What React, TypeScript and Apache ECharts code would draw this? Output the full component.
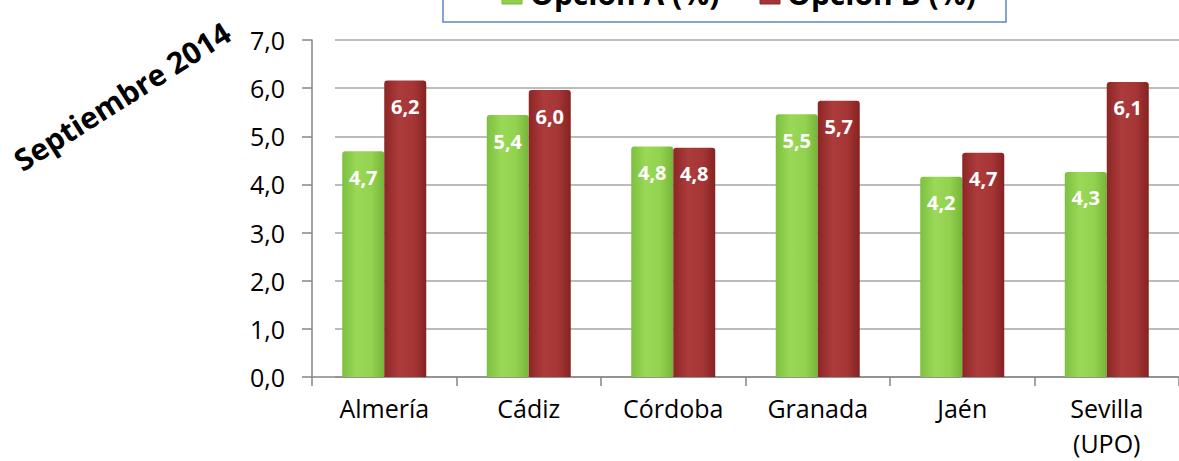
import React, { useEffect, useRef } from "react";
import * as echarts from "echarts";

const categories = ["Almería", "Cádiz", "Córdoba", "Granada", "Jaén", "Sevilla\n(UPO)"];
const seriesNames = ["Opción A (%)", "Opción B (%)"];
const opcionA = [4.69, 5.44, 4.79, 5.46, 4.16, 4.26];
const opcionB = [6.16, 5.96, 4.76, 5.74, 4.66, 6.13];
const yTickLabels = ["0,0", "1,0", "2,0", "3,0", "4,0", "5,0", "6,0", "7,0"];
const title = "Septiembre 2014";

const fmt = (v: number) => v.toFixed(1).replace(".", ",");

const greenGrad = new echarts.graphic.LinearGradient(0, 0, 1, 0, [
  { offset: 0, color: "#7dbf3f" },
  { offset: 0.35, color: "#9ad957" },
  { offset: 0.7, color: "#92d24f" },
  { offset: 1, color: "#76b53a" },
]);
const redGrad = new echarts.graphic.LinearGradient(0, 0, 1, 0, [
  { offset: 0, color: "#8c2626" },
  { offset: 0.35, color: "#ac3b3b" },
  { offset: 0.7, color: "#a63636" },
  { offset: 1, color: "#862222" },
]);

export default function App() {
  const ref = useRef<HTMLDivElement>(null);
  useEffect(() => {
    if (!ref.current) return;
    const chart = echarts.init(ref.current, null, { renderer: "svg" });
    const labelCfg = {
      show: true,
      position: "insideTop",
      distance: 15,
      color: "#ffffff",
      fontFamily: "Open Sans",
      fontWeight: "bold",
      fontSize: 20,
      lineHeight: 22,
      formatter: (p: any) => fmt(p.value),
    };
    chart.setOption({
      animation: false,
      backgroundColor: "#ffffff",
      grid: [
        { left: 312, right: -8, top: 40, bottom: 84 },
        { left: 335, right: -8, top: 40, bottom: 84 },
      ],
      xAxis: [
        {
          type: "category",
          gridIndex: 0,
          data: categories,
          axisLine: { show: true, lineStyle: { color: "#868686", width: 1.5 } },
          axisTick: { show: true, length: 9, lineStyle: { color: "#868686", width: 1.5 } },
          axisLabel: {
            color: "#000",
            fontFamily: "Open Sans",
            fontSize: 25,
            lineHeight: 35,
            margin: 13,
            interval: 0,
          },
        },
        { type: "category", gridIndex: 1, data: categories, show: false },
      ],
      yAxis: [
        {
          type: "value",
          gridIndex: 0,
          min: 0,
          max: 7,
          interval: 1,
          axisLine: { show: true, lineStyle: { color: "#868686", width: 1.5 } },
          axisTick: { show: true, length: 10, lineStyle: { color: "#868686", width: 1.5 } },
          splitLine: { show: false },
          axisLabel: {
            color: "#000",
            fontFamily: "Open Sans",
            fontSize: 25,
            margin: 27,
            formatter: (v: number) => yTickLabels[Math.round(v)],
          },
        },
        {
          type: "value",
          gridIndex: 1,
          min: 0,
          max: 7,
          interval: 1,
          axisLine: { show: false },
          axisTick: { show: false },
          axisLabel: { show: false },
          splitLine: { show: true, lineStyle: { color: "#a6a6a6", width: 1.5 } },
        },
      ],
      series: [
        {
          name: seriesNames[0],
          type: "bar",
          xAxisIndex: 0,
          yAxisIndex: 0,
          data: opcionA,
          barWidth: 42,
          barGap: "0%",
          itemStyle: { color: greenGrad, borderRadius: [3, 3, 0, 0] },
          label: labelCfg,
        },
        {
          name: seriesNames[1],
          type: "bar",
          xAxisIndex: 0,
          yAxisIndex: 0,
          data: opcionB,
          barWidth: 42,
          barGap: "0%",
          itemStyle: { color: redGrad, borderRadius: [3, 3, 0, 0] },
          label: labelCfg,
        },
      ],
      graphic: [
        {
          type: "rect",
          shape: { x: 443, y: -40, width: 563, height: 62 },
          style: { fill: "#ffffff", stroke: "#5b87c9", lineWidth: 1.5 },
          z: 10,
        },
        {
          type: "rect",
          shape: { x: 502, y: -16, width: 20, height: 20 },
          style: { fill: "#8fd14f", stroke: "#7ab23f", lineWidth: 1 },
          z: 11,
        },
        {
          type: "text",
          x: 530,
          y: -7,
          style: {
            text: seriesNames[0],
            fontFamily: "Open Sans",
            fontWeight: "bold",
            fontSize: 30,
            fill: "#000",
            align: "left",
            verticalAlign: "middle",
          },
          z: 11,
        },
        {
          type: "rect",
          shape: { x: 760, y: -16, width: 20, height: 20 },
          style: { fill: "#a33535", stroke: "#8a2a2a", lineWidth: 1 },
          z: 11,
        },
        {
          type: "text",
          x: 787,
          y: -7,
          style: {
            text: seriesNames[1],
            fontFamily: "Open Sans",
            fontWeight: "bold",
            fontSize: 30,
            fill: "#000",
            align: "left",
            verticalAlign: "middle",
          },
          z: 11,
        },
        {
          type: "text",
          x: 122,
          y: 96,
          rotation: 0.565,
          style: {
            text: title,
            fontFamily: "Open Sans",
            fontWeight: "bold",
            fontSize: 30,
            fill: "#000",
            align: "center",
            verticalAlign: "middle",
          },
          z: 11,
        },
      ],
    });
    return () => chart.dispose();
  }, []);
  return (
    <div
      ref={ref}
      style={{ position: "fixed", left: 0, top: 0, width: 1179, height: 461 }}
    />
  );
}
